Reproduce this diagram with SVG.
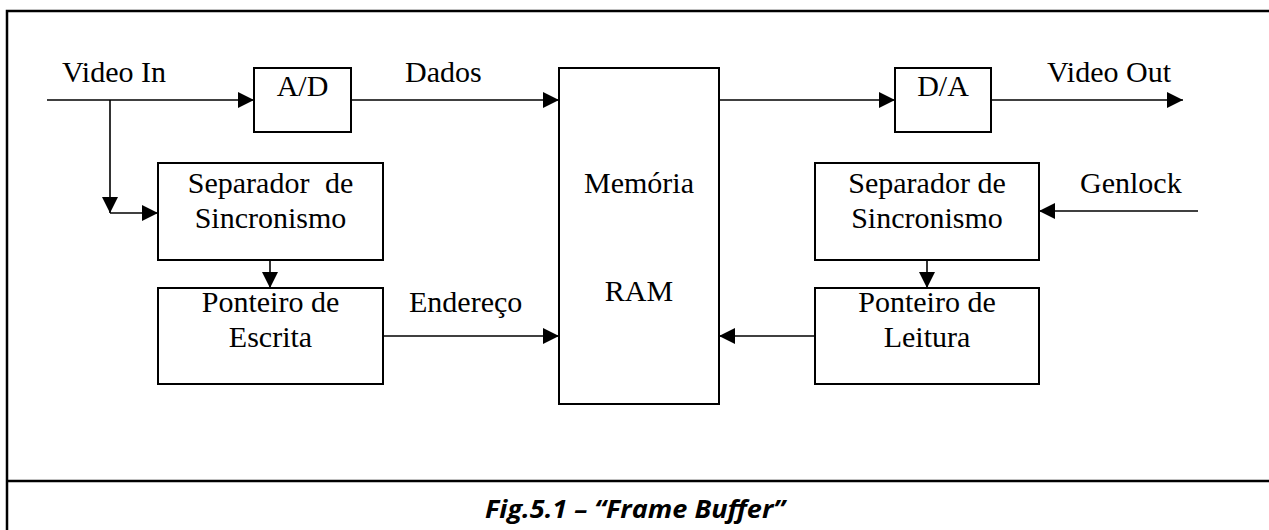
<svg xmlns="http://www.w3.org/2000/svg" width="1269" height="530" viewBox="0 0 1269 530">
<style>
.box{fill:#fff;stroke:#000;stroke-width:2}
.ln{fill:none;stroke:#000;stroke-width:1.6}
.t{font-family:"Liberation Serif",serif;font-size:30px;fill:#000}
.c{text-anchor:middle}
.cap{font-family:"Open Sans","Liberation Sans",sans-serif;font-size:25px;font-weight:bold;font-style:italic;text-anchor:middle;fill:#000}
</style>
<defs>
<marker id="ah" markerUnits="userSpaceOnUse" markerWidth="16" markerHeight="16" viewBox="0 0 14 14" refX="14" refY="7" orient="auto">
<path d="M0,0 L14,7 L0,14 Z" fill="#000"/>
</marker>
</defs>
<rect width="1269" height="530" fill="#fff"/>
<g id="frame">
<path d="M1275,11 H7 V535" fill="none" stroke="#000" stroke-width="2.5"/>
<line x1="7" y1="481" x2="1275" y2="481" stroke="#000" stroke-width="2.5"/>
</g>
<g id="connectors">
<line class="ln" x1="47" y1="100" x2="254" y2="100" marker-end="url(#ah)"/>
<line class="ln" x1="110" y1="100" x2="110" y2="213" marker-end="url(#ah)"/>
<line class="ln" x1="110" y1="213" x2="158" y2="213" marker-end="url(#ah)"/>
<line class="ln" x1="351" y1="100" x2="559" y2="100" marker-end="url(#ah)"/>
<line class="ln" x1="719" y1="100" x2="895" y2="100" marker-end="url(#ah)"/>
<line class="ln" x1="991" y1="100" x2="1183" y2="100" marker-end="url(#ah)"/>
<line class="ln" x1="1198" y1="211" x2="1039" y2="211" marker-end="url(#ah)"/>
<line class="ln" x1="270" y1="260" x2="270" y2="288" marker-end="url(#ah)"/>
<line class="ln" x1="927" y1="260" x2="927" y2="288" marker-end="url(#ah)"/>
<line class="ln" x1="383" y1="336" x2="559" y2="336" marker-end="url(#ah)"/>
<line class="ln" x1="815" y1="336" x2="719" y2="336" marker-end="url(#ah)"/>
</g>
<g id="labels">
<text class="t" x="62" y="82">Video In</text>
<text class="t" x="405" y="82">Dados</text>
<text class="t" x="1047" y="82">Video Out</text>
<text class="t" x="1080" y="193">Genlock</text>
<text class="t" x="409" y="312">Endereço</text>
</g>
<g id="ad">
<rect class="box" x="254" y="68" width="97" height="64"/>
<text class="t c" x="302.5" y="96">A/D</text>
</g>
<g id="memoria">
<rect class="box" x="559" y="68" width="160" height="336"/>
<text class="t c" x="639" y="193">Memória</text>
<text class="t c" x="639" y="301">RAM</text>
</g>
<g id="da">
<rect class="box" x="895" y="68" width="96" height="64"/>
<text class="t c" x="943" y="96">D/A</text>
</g>
<g id="sep-left">
<rect class="box" x="158" y="163" width="225" height="97"/>
<text class="t c" x="270.5" y="193" style="word-spacing:8px">Separador de</text>
<text class="t c" x="270.5" y="228">Sincronismo</text>
</g>
<g id="sep-right">
<rect class="box" x="815" y="163" width="224" height="97"/>
<text class="t c" x="927" y="193">Separador de</text>
<text class="t c" x="927" y="228">Sincronismo</text>
</g>
<g id="ptr-write">
<rect class="box" x="158" y="288" width="225" height="96"/>
<text class="t c" x="270.5" y="312">Ponteiro de</text>
<text class="t c" x="270.5" y="347">Escrita</text>
</g>
<g id="ptr-read">
<rect class="box" x="815" y="288" width="224" height="96"/>
<text class="t c" x="927" y="312">Ponteiro de</text>
<text class="t c" x="927" y="347">Leitura</text>
</g>
<g id="caption">
<text class="cap" x="635" y="518" textLength="300" lengthAdjust="spacingAndGlyphs">Fig.5.1 – “Frame Buffer”</text>
</g>
</svg>
